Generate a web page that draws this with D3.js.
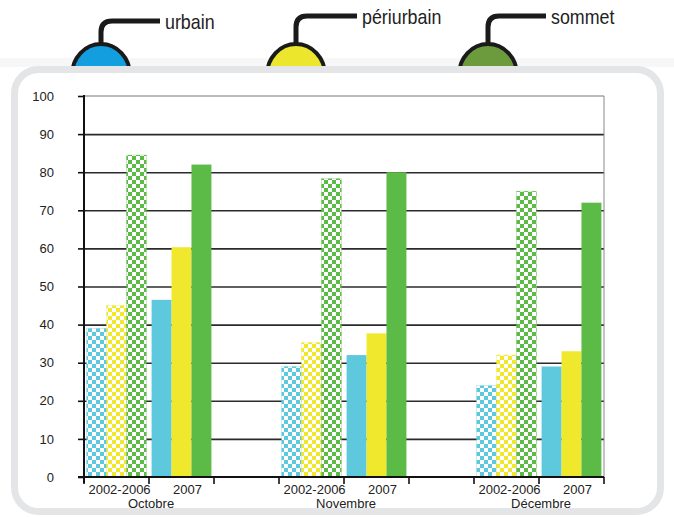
<!DOCTYPE html>
<html><head><meta charset="utf-8">
<script src="https://cdn.jsdelivr.net/npm/d3@7"></script>
<style>
html,body{margin:0;padding:0;background:#fff;}
svg{display:block;}
</style></head>
<body>
<script>
// ---- data ----
const months = ["Octobre", "Novembre", "Décembre"];
const periods = ["2002-2006", "2007"];
const seriesNames = ["urbain", "périurbain", "sommet"];
const yTicks = [0, 10, 20, 30, 40, 50, 60, 70, 80, 90, 100];
// values per month [Octobre, Novembre, Décembre]
const urbainRef = [39, 29, 24];
const urbain2007 = [46.5, 32, 29];
const periurbainRef = [45, 35.3, 32];
const periurbain2007 = [60.3, 37.7, 33];
const sommetRef = [84.5, 78.3, 75];
const sommet2007 = [82, 80, 72];

const values = {
  "urbain": {"2002-2006": urbainRef, "2007": urbain2007},
  "périurbain": {"2002-2006": periurbainRef, "2007": periurbain2007},
  "sommet": {"2002-2006": sommetRef, "2007": sommet2007}
};

const barColor = {"urbain": "#5ec8dc", "périurbain": "#efe82c", "sommet": "#5cba46"};
const blobColor = {"urbain": "#139fdf", "périurbain": "#ece62c", "sommet": "#6b9b3d"};

const W = 674, H = 517;
const svg = d3.select("body").append("svg").attr("width", W).attr("height", H);

// patterns
const defs = svg.append("defs");
const cell = 4;
seriesNames.forEach((s, i) => {
  const p = defs.append("pattern").attr("id", "chk" + i)
    .attr("patternUnits", "userSpaceOnUse").attr("width", cell * 2).attr("height", cell * 2);
  p.append("rect").attr("width", cell * 2).attr("height", cell * 2).attr("fill", "#fff");
  p.append("rect").attr("width", cell).attr("height", cell).attr("fill", barColor[s]).attr("shape-rendering", "crispEdges");
  p.append("rect").attr("x", cell).attr("y", cell).attr("width", cell).attr("height", cell).attr("fill", barColor[s]).attr("shape-rendering", "crispEdges");
});

// faint shadow band above card
svg.append("rect").attr("x", 0).attr("y", 58).attr("width", W).attr("height", 9).attr("fill", "#f7f7f7");

// legend blobs
const legendX = d3.scalePoint().domain(seriesNames).range([101, 488]);
const legendLineY = {"urbain": 21, "périurbain": 16, "sommet": 16};
const legendLen = {"urbain": 59, "périurbain": 61, "sommet": 58};
const lg = svg.append("g");
seriesNames.forEach(s => {
  const cx = s === "périurbain" ? 296 : legendX(s);
  const ly = legendLineY[s];
  lg.append("ellipse").attr("cx", cx).attr("cy", 75).attr("rx", 29).attr("ry", 31)
    .attr("fill", blobColor[s]).attr("stroke", "#1a1a1a").attr("stroke-width", 4);
  const r = 11;
  lg.append("path")
    .attr("d", `M${cx},44 L${cx},${ly + r} Q${cx},${ly} ${cx + r},${ly} L${cx + legendLen[s]},${ly}`)
    .attr("fill", "none").attr("stroke", "#1a1a1a").attr("stroke-width", 5);
  const tx = cx + legendLen[s] + 5;
  lg.append("text")
    .attr("transform", `translate(${tx},${ly + 7.5}) scale(0.85,1)`)
    .attr("font-family", "'Liberation Sans', Arial, sans-serif")
    .attr("font-size", 21).attr("fill", "#222").text(s);
});

// card
svg.append("rect").attr("x", 14.5).attr("y", 69.5).attr("width", 646).attr("height", 442)
  .attr("rx", 24).attr("fill", "#fff").attr("stroke", "#e4e5e7").attr("stroke-width", 7);

// scales
const slots = [];
months.forEach((m, i) => {
  periods.forEach(p => slots.push(m + "|" + p));
  if (i < months.length - 1) slots.push("gap" + i);
});
const x = d3.scaleBand().domain(slots).range([84, 604]).padding(0);
const xs = d3.scaleBand().domain(seriesNames).range([0, x.bandwidth()]).paddingInner(0).paddingOuter(0.13);
const y = d3.scaleLinear().domain([0, 100]).range([477, 96]);

const font = "'Liberation Sans', Arial, sans-serif";

// gridlines
const grid = svg.append("g").attr("transform", "translate(84,0)")
  .call(d3.axisLeft(y).tickValues(yTicks.filter(t => t > 0 && t < 100)).tickSize(-520).tickFormat(""));
grid.select(".domain").remove();
grid.selectAll("line").attr("stroke", "#2b2b2b").attr("stroke-width", 1.6);
// top box line and right edge
svg.append("line").attr("x1", 84).attr("x2", 604).attr("y1", y(100)).attr("y2", y(100))
  .attr("stroke", "#777").attr("stroke-width", 1);
svg.append("line").attr("x1", 604).attr("x2", 604).attr("y1", y(100)).attr("y2", y(0))
  .attr("stroke", "#888").attr("stroke-width", 1);

// bars
const barData = [];
months.forEach((m, mi) => periods.forEach(p => seriesNames.forEach((s, si) => {
  barData.push({m, p, s, si, v: values[s][p][mi]});
})));
svg.append("g").selectAll("rect").data(barData).join("rect")
  .attr("x", d => x(d.m + "|" + d.p) + xs(d.s))
  .attr("width", xs.bandwidth())
  .attr("y", d => y(d.v))
  .attr("height", d => y(0) - y(d.v))
  .attr("fill", d => d.p === "2007" ? barColor[d.s] : `url(#chk${d.si})`)
  .attr("stroke", d => d.p === "2007" ? "none" : barColor[d.s])
  .attr("stroke-opacity", 0.4).attr("stroke-width", 0.8);

// y axis
const ya = svg.append("g").attr("transform", "translate(84,0)")
  .call(d3.axisLeft(y).tickValues(yTicks).tickSize(6).tickPadding(24));
ya.select(".domain").remove();
ya.selectAll("line").attr("stroke", "#111").attr("stroke-width", 1.6);
ya.selectAll("text").attr("font-family", font).attr("font-size", 13).attr("fill", "#222");
svg.append("line").attr("x1", 84).attr("x2", 84).attr("y1", y(100) - 1).attr("y2", y(0) + 6)
  .attr("stroke", "#111").attr("stroke-width", 2);

// x axis
svg.append("line").attr("x1", 78).attr("x2", 604).attr("y1", y(0)).attr("y2", y(0))
  .attr("stroke", "#111").attr("stroke-width", 2);
const bounds = slots.map(s => x(s)).concat([x.range()[1]]);
svg.append("g").selectAll("line").data(bounds).join("line")
  .attr("x1", d => d).attr("x2", d => d).attr("y1", y(0)).attr("y2", y(0) + 7)
  .attr("stroke", "#111").attr("stroke-width", 1.6);
const xa = svg.append("g").attr("transform", `translate(0,${y(0)})`)
  .call(d3.axisBottom(x).tickSize(0).tickPadding(8)
    .tickFormat(d => d.startsWith("gap") ? "" : d.split("|")[1]));
xa.select(".domain").remove();
xa.selectAll("text").attr("font-family", font).attr("font-size", 13).attr("fill", "#222")
  .attr("dx", d => d.endsWith("2007") ? 6 : 3);

// month labels
svg.append("g").selectAll("text").data(months).join("text")
  .attr("x", m => (x(m + "|" + periods[0]) + x(m + "|" + periods[1]) + x.bandwidth()) / 2 + 2)
  .attr("y", 508)
  .attr("text-anchor", "middle")
  .attr("font-family", font).attr("font-size", 13).attr("fill", "#222")
  .text(m => m);
</script>
</body></html>
